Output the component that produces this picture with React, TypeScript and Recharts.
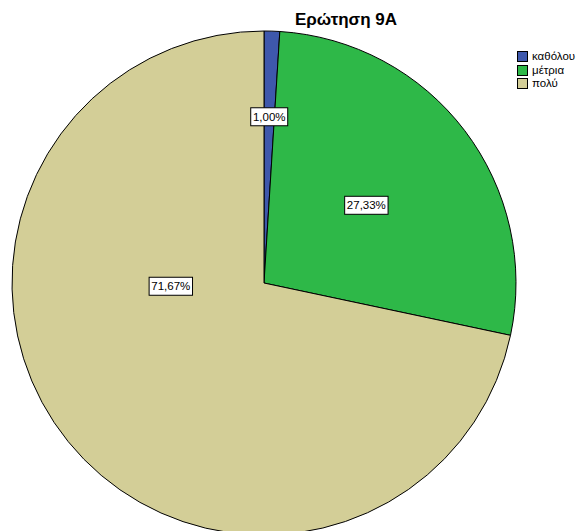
import React from "react";
import { PieChart, Pie, Cell, Legend } from "recharts";

const categories = ["καθόλου", "μέτρια", "πολύ"];
const percentages = [1.0, 27.33, 71.67];
const labels = ["1,00%", "27,33%", "71,67%"];
const colors = ["#3E58AC", "#2EB848", "#D3CE97"];
const title = "Ερώτηση 9A";

// label placement (fraction of radius, optional angle override in degrees)
const labelPlacement: { r: number; angle?: number }[] = [
  { r: 0.66 },
  { r: 0.51 },
  { r: 0.37, angle: 182 },
];

const data = categories.map((name, i) => ({ name, value: percentages[i], label: labels[i] }));

const RADIAN = Math.PI / 180;

const renderLabel = (props: any) => {
  const { cx, cy, midAngle, outerRadius, index } = props;
  const p = labelPlacement[index];
  const ang = p.angle !== undefined ? p.angle : midAngle;
  const r = outerRadius * p.r;
  const x = cx + r * Math.cos(-ang * RADIAN);
  const y = cy + r * Math.sin(-ang * RADIAN);
  const text = labels[index];
  const w = text.length * 6.4 + 5;
  const h = 18;
  return (
    <g key={`lbl-${index}`}>
      <rect x={x - w / 2} y={y - h / 2} width={w} height={h} fill="#FFFFFF" stroke="#000000" strokeWidth={1} />
      <text
        x={x}
        y={y}
        textAnchor="middle"
        dominantBaseline="central"
        fontFamily="Liberation Sans, Arial, sans-serif"
        fontSize={11.5}
        fill="#000000"
      >
        {text}
      </text>
    </g>
  );
};

const LegendContent = () => (
  <div style={{ fontFamily: "Liberation Sans, Arial, sans-serif", fontSize: 11.5, lineHeight: "13.5px" }}>
    {categories.map((c, i) => (
      <div key={c} style={{ display: "flex", alignItems: "center", height: 13.5, whiteSpace: "nowrap" }}>
        <span
          style={{
            display: "inline-block",
            width: 9,
            height: 9,
            background: colors[i],
            border: "1px solid #000",
            marginRight: 4,
            flexShrink: 0,
          }}
        />
        <span>{c}</span>
      </div>
    ))}
  </div>
);

export default function App() {
  return (
    <div style={{ position: "absolute", left: 0, top: 0, width: 577, height: 531, background: "#fff", overflow: "hidden" }}>
      <div
        style={{
          position: "absolute",
          left: 0,
          width: 692,
          top: 10,
          textAlign: "center",
          fontFamily: "Liberation Sans, Arial, sans-serif",
          fontWeight: "bold",
          fontSize: 17,
        }}
      >
        {title}
      </div>
      <PieChart
        width={577}
        height={531}
        margin={{ top: 0, right: 0, bottom: 0, left: 0 }}
        style={{ position: "absolute", left: 0, top: 0 }}
      >
        <Pie
          data={data}
          dataKey="value"
          nameKey="name"
          cx={264}
          cy={283}
          outerRadius={252}
          startAngle={90}
          endAngle={-270}
          stroke="#000000"
          strokeWidth={1}
          label={renderLabel}
          labelLine={false}
          isAnimationActive={false}
        >
          {data.map((d, i) => (
            <Cell key={d.name} fill={colors[i]} />
          ))}
        </Pie>
        <Legend
          content={<LegendContent />}
          wrapperStyle={{ position: "absolute", left: 517, top: 50, width: 80 }}
        />
      </PieChart>
    </div>
  );
}
